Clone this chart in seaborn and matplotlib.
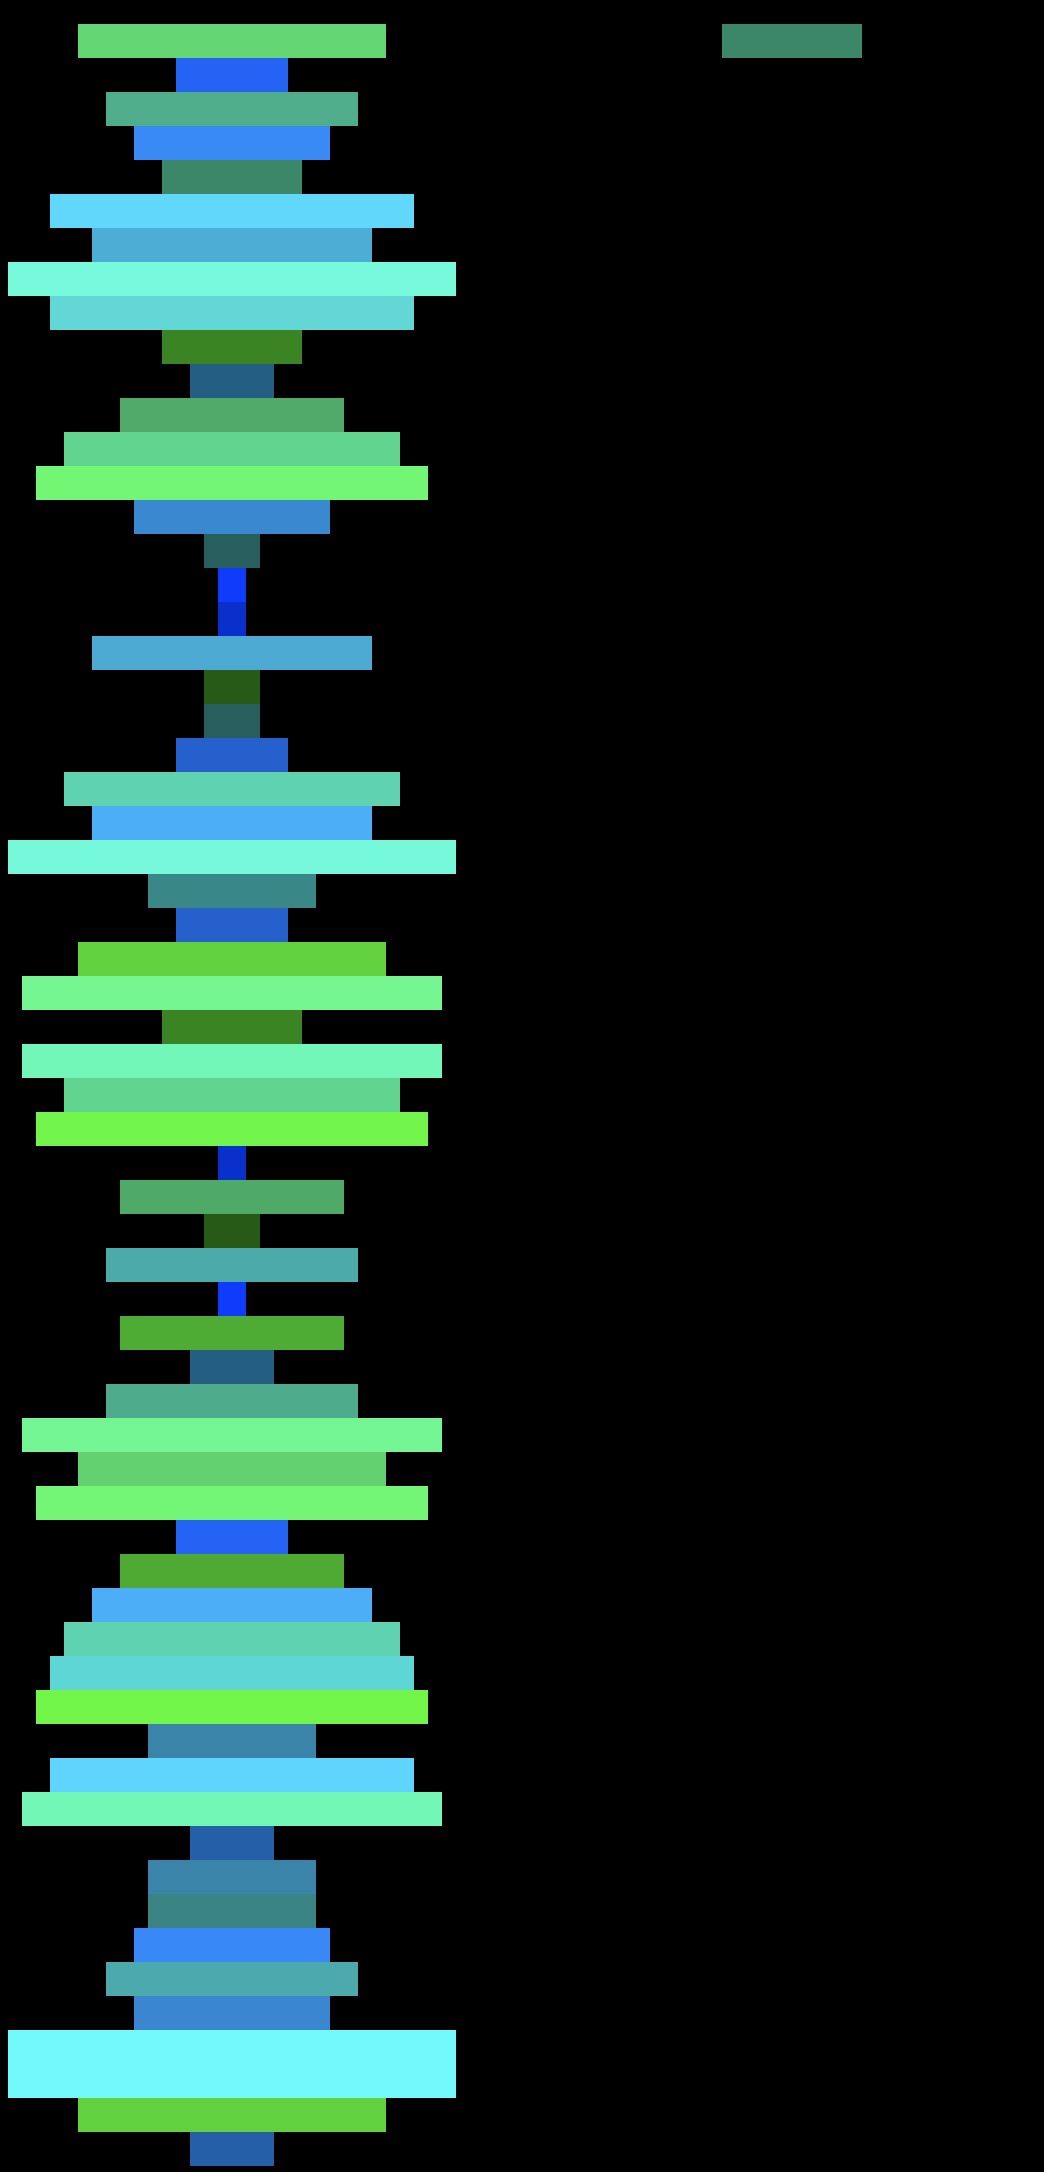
import matplotlib
matplotlib.use("Agg")
import matplotlib.pyplot as plt
import seaborn as sns
import pandas as pd

values = [11, 4, 9, 7, 5, 13, 10, 16, 13, 5,
          3, 8, 12, 14, 7, 2, 1, 1, 10, 2,
          2, 4, 12, 10, 16, 6, 4, 11, 15, 5,
          15, 12, 14, 1, 8, 2, 9, 1, 8, 3,
          9, 15, 11, 14, 4, 8, 10, 12, 13, 14,
          6, 13, 15, 3, 6, 6, 7, 9, 7, 16,
          16, 11, 3]

colors = ["#63d673", "#2563f5", "#4fad8c", "#3a8af6", "#3b8768", "#61d7fc", "#4eadd4", "#77f9dc", "#63d6d6", "#3b8423",
          "#245e82", "#51aa6a", "#61d490", "#73f673", "#3a88d0", "#275e5e", "#0f3bfa", "#0a30cc", "#4daad2", "#285a17",
          "#275e5e", "#2560cc", "#5fd3b0", "#4daef8", "#76f9da", "#3a8787", "#2560cc", "#61d13f", "#74f590", "#3b8423",
          "#72f7b8", "#61d48f", "#72f54a", "#0a30cc", "#4eaa66", "#285a17", "#4cabaa", "#0f3bfa", "#4eab33", "#245e82",
          "#4eab8c", "#74f594", "#63d16f", "#73f675", "#2563f5", "#4eaa33", "#4daef8", "#5fd3b0", "#5fd6d6", "#70f548",
          "#3a84aa", "#5fd4fc", "#72f7b6", "#245fa8", "#3a84aa", "#3a8484", "#3888f8", "#4caaac", "#3a86d0", "#72f9fc",
          "#72f9fc", "#61d13f", "#245fa8"]

categories = [f"Stage {i + 1}" for i in range(len(values))]

extra_values = [5]
extra_offsets = [20]
extra_rows = [0]
extra_colors = ["#3b8768"]

df = pd.DataFrame({"stage": categories, "value": values})

fig = plt.figure(figsize=(10.44, 21.72), dpi=100, facecolor="black")
ax = fig.add_axes([0, 0, 1, 1])
ax.set_facecolor("black")

sns.barplot(data=df, x="value", y="stage", hue="stage",
            palette=dict(zip(categories, colors)), orient="h",
            width=1.0, linewidth=0, saturation=1, legend=False, ax=ax)

# center every bar to form a funnel
for p in ax.patches:
    p.set_x(p.get_x() - p.get_width() / 2)

for r, v, o, c in zip(extra_rows, extra_values, extra_offsets, extra_colors):
    ax.barh(r, v, left=o - v / 2, height=1.0, color=c, linewidth=0)

ax.set_xlim(-8.286, 29)
ax.set_ylim(62.676, -1.206)
ax.axis("off")

fig.savefig("out.png", dpi=100, facecolor="black")
